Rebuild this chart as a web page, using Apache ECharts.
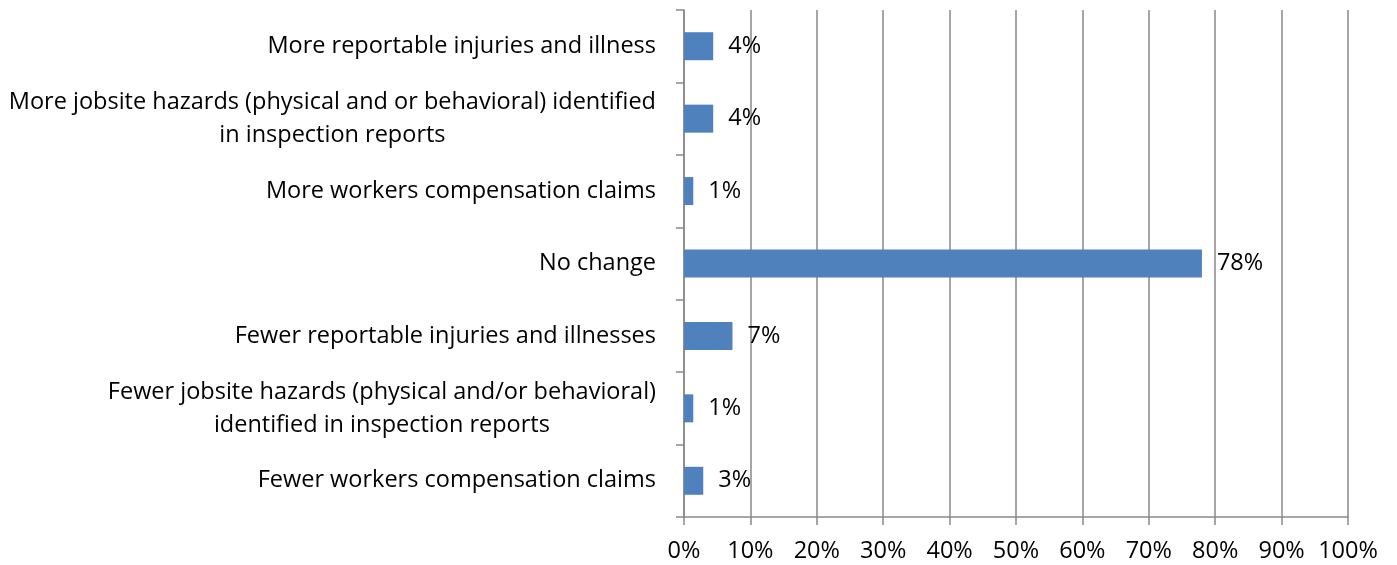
<!DOCTYPE html>
<html>
<head>
<meta charset="utf-8">
<script src="https://cdn.jsdelivr.net/npm/echarts@6/dist/echarts.min.js"></script>
<style>
  html, body { margin: 0; padding: 0; background: #fff; }
  #chart { width: 1397px; height: 565px; }
</style>
</head>
<body>
<div id="chart"></div>
<script>
// categories top to bottom
var categories = [
  'More reportable injuries and illness',
  'More jobsite hazards (physical and or behavioral) identified\nin inspection reports',
  'More workers compensation claims',
  'No change',
  'Fewer reportable injuries and illnesses',
  'Fewer jobsite hazards (physical and/or behavioral)\nidentified in inspection reports',
  'Fewer workers compensation claims'
];
var shares = [4.4, 4.4, 1.4, 78.0, 7.3, 1.4, 2.9];
var xTicks = [0, 10, 20, 30, 40, 50, 60, 70, 80, 90, 100];

var font = '"Open Sans", sans-serif';
var fs = 23.5;
var gridColor = '#898989';

var chart = echarts.init(document.getElementById('chart'));
chart.setOption({
  animation: false,
  textStyle: { fontFamily: font },
  grid: { left: 684, right: 49, top: 10, bottom: 48 },
  xAxis: {
    type: 'value',
    min: xTicks[0],
    max: xTicks[xTicks.length - 1],
    interval: 10,
    axisLine: { show: true, lineStyle: { color: gridColor, width: 1.5 } },
    axisTick: { show: true, length: 8, lineStyle: { color: gridColor, width: 1.5 } },
    splitLine: { show: true, lineStyle: { color: gridColor, width: 1.5 } },
    axisLabel: {
      formatter: '{value}%',
      color: '#000',
      fontFamily: font,
      fontSize: fs,
      margin: 22
    }
  },
  yAxis: {
    type: 'category',
    inverse: true,
    data: categories,
    axisLine: { show: true, lineStyle: { color: gridColor, width: 1.5 } },
    axisTick: { show: true, length: 8, lineStyle: { color: gridColor, width: 1.5 } },
    axisLabel: {
      margin: 28,
      color: '#000',
      fontFamily: font,
      fontSize: fs,
      formatter: function (v) {
        return v.split('\n').map(function (l) { return '{c|' + l + '}'; }).join('\n');
      },
      rich: {
        c: { align: 'center', fontFamily: font, fontSize: fs, lineHeight: 33, color: '#000' }
      }
    }
  },
  series: [{
    type: 'bar',
    data: shares,
    barWidth: 28,
    itemStyle: { color: '#4F81BD' },
    label: {
      show: true,
      position: 'right',
      distance: 15,
      color: '#000',
      fontFamily: font,
      fontSize: fs,
      formatter: function (p) { return Math.round(p.value) + '%'; }
    }
  }]
});
</script>
</body>
</html>
